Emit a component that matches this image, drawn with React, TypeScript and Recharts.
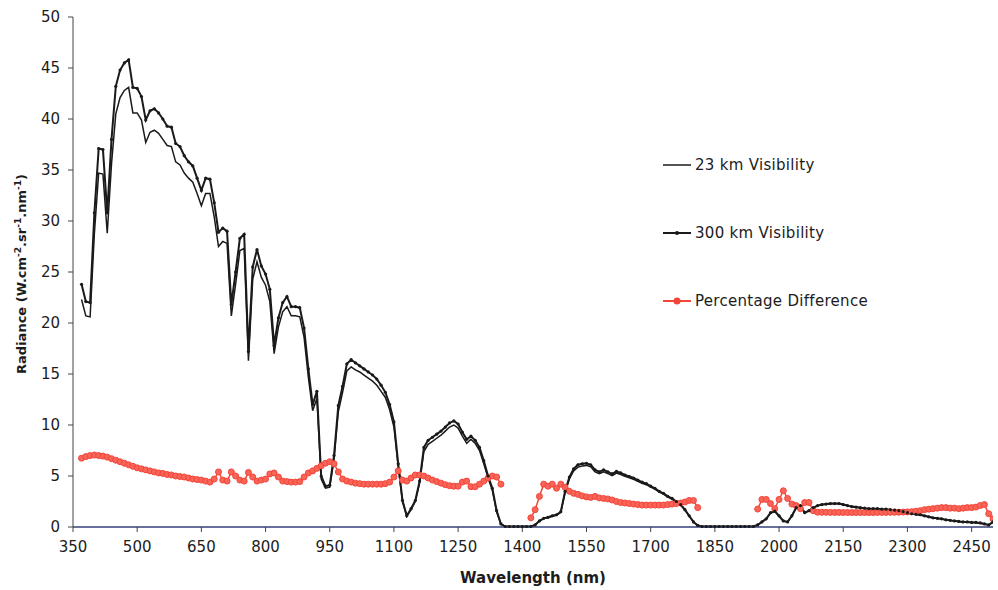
import { LineChart, Line, XAxis, YAxis } from 'recharts';

// wavelength grid of the spectra, 370 .. 2500 nm in 10 nm steps
const wavelengths: number[] = [];
for (let w = 370; w <= 2500; w += 10) wavelengths.push(w);

// radiance, 300 km visibility
const vis300 = [
  23.8, 22.1, 22.0, 30.8, 37.1, 37.0, 30.8, 38.0, 43.2, 44.8, // 370-460
  45.5, 45.8, 43.1, 43.0, 42.2, 39.9, 40.8, 41.0, 40.6, 40.0, // 470-560
  39.3, 39.2, 37.6, 37.3, 36.4, 35.8, 35.4, 34.2, 33.0, 34.2, // 570-660
  34.1, 31.8, 28.9, 29.3, 29.0, 21.8, 25.0, 28.3, 28.7, 17.2, // 670-760
  25.5, 27.2, 25.6, 24.8, 23.3, 17.8, 20.5, 22.0, 22.6, 21.6, // 770-860
  21.6, 21.5, 19.5, 15.5, 12.0, 13.3, 5.0, 4.0, 4.1, 7.0, // 870-960
  11.9, 13.8, 16.0, 16.4, 16.1, 15.8, 15.5, 15.2, 14.9, 14.5, // 970-1060
  13.9, 13.2, 12.0, 10.3, 6.2, 2.6, 1.1, 1.8, 2.6, 4.5, // 1070-1160
  7.8, 8.5, 8.8, 9.1, 9.4, 9.8, 10.2, 10.4, 10.1, 9.3, // 1170-1260
  8.6, 8.9, 8.5, 7.8, 6.5, 5.0, 3.8, 1.6, 0.3, 0.05, // 1270-1360
  0.05, 0.05, 0.05, 0.05, 0.05, 0.05, 0.2, 0.6, 0.85, 0.95, // 1370-1460
  1.1, 1.2, 1.5, 3.5, 4.9, 5.7, 6.1, 6.2, 6.25, 6.1, // 1470-1560
  5.6, 5.4, 5.6, 5.4, 5.2, 5.45, 5.3, 5.1, 4.95, 4.8, // 1570-1660
  4.6, 4.4, 4.25, 4.0, 3.8, 3.5, 3.3, 3.0, 2.8, 2.5, // 1670-1760
  2.2, 1.7, 1.1, 0.5, 0.15, 0.05, 0.05, 0.05, 0.05, 0.05, // 1770-1860
  0.05, 0.05, 0.05, 0.05, 0.05, 0.05, 0.05, 0.05, 0.2, 0.5, // 1870-1960
  0.8, 1.4, 1.55, 1.1, 0.6, 0.5, 1.1, 1.9, 2.1, 1.4, // 1970-2060
  1.6, 1.9, 2.1, 2.2, 2.25, 2.3, 2.3, 2.3, 2.2, 2.1, // 2070-2160
  2.0, 1.95, 1.9, 1.85, 1.8, 1.8, 1.8, 1.75, 1.75, 1.7, // 2170-2260
  1.65, 1.6, 1.5, 1.4, 1.3, 1.25, 1.2, 1.1, 1.0, 0.9, // 2270-2360
  0.85, 0.8, 0.7, 0.65, 0.6, 0.55, 0.5, 0.5, 0.45, 0.45, // 2370-2460
  0.4, 0.3, 0.2, 0.5, // 2470-2500
];

// radiance, 23 km visibility
const vis23 = [
  22.3, 20.7, 20.6, 28.8, 34.7, 34.6, 28.8, 35.6, 40.5, 42.1,
  42.8, 43.1, 40.6, 40.6, 39.9, 37.7, 38.7, 38.9, 38.6, 38.0,
  37.4, 37.3, 35.8, 35.5, 34.7, 34.2, 33.8, 32.7, 31.5, 32.7,
  32.7, 30.4, 27.5, 28.0, 27.8, 20.7, 23.8, 27.1, 27.3, 16.3,
  24.3, 26.0, 24.5, 23.7, 22.1, 17.0, 19.6, 21.1, 21.6, 20.7,
  20.7, 20.6, 18.6, 14.7, 11.4, 12.6, 4.7, 3.8, 3.9, 6.6,
  11.3, 13.2, 15.3, 15.7, 15.4, 15.2, 14.9, 14.6, 14.3, 13.9,
  13.3, 12.7, 11.5, 9.8, 5.9, 2.5, 1.05, 1.7, 2.5, 4.3,
  7.4, 8.1, 8.4, 8.7, 9.0, 9.4, 9.8, 10.0, 9.7, 8.9,
  8.2, 8.6, 8.2, 7.5, 6.2, 4.8, 3.6, 1.5, 0.3, 0.05,
  0.05, 0.05, 0.05, 0.05, 0.05, 0.05, 0.2, 0.58, 0.82, 0.91,
  1.06, 1.15, 1.44, 3.36, 4.71, 5.49, 5.87, 5.98, 6.04, 5.9,
  5.41, 5.22, 5.42, 5.23, 5.04, 5.29, 5.15, 4.96, 4.82, 4.67,
  4.48, 4.29, 4.15, 3.91, 3.72, 3.43, 3.23, 2.94, 2.74, 2.44,
  2.15, 1.66, 1.07, 0.49, 0.15, 0.05, 0.05, 0.05, 0.05, 0.05,
  0.05, 0.05, 0.05, 0.05, 0.05, 0.05, 0.05, 0.05, 0.2, 0.49,
  0.78, 1.37, 1.52, 1.06, 0.58, 0.49, 1.08, 1.86, 2.06, 1.37,
  1.58, 1.87, 2.07, 2.17, 2.22, 2.27, 2.27, 2.27, 2.17, 2.07,
  1.97, 1.92, 1.87, 1.82, 1.77, 1.77, 1.77, 1.72, 1.72, 1.67,
  1.62, 1.57, 1.48, 1.38, 1.28, 1.23, 1.18, 1.08, 0.98, 0.88,
  0.83, 0.78, 0.69, 0.64, 0.59, 0.54, 0.49, 0.49, 0.44, 0.44,
  0.39, 0.29, 0.2, 0.49,
];

// percentage difference (blank where radiance is ~0)
const pctDiff: (number | null)[] = [
  6.75, 6.9, 7.0, 7.05, 7.0, 6.95, 6.85, 6.7, 6.55, 6.4,
  6.25, 6.1, 5.95, 5.8, 5.7, 5.6, 5.5, 5.4, 5.3, 5.25,
  5.15, 5.1, 5.0, 4.95, 4.9, 4.8, 4.7, 4.65, 4.6, 4.5,
  4.4, 4.7, 5.4, 4.6, 4.5, 5.4, 5.0, 4.6, 4.5, 5.35,
  4.9, 4.5, 4.6, 4.7, 5.2, 5.3, 4.9, 4.5, 4.45, 4.4,
  4.4, 4.45, 4.9, 5.3, 5.5, 5.75, 6.0, 6.25, 6.4, 6.2,
  5.4, 4.7, 4.5, 4.4, 4.3, 4.25, 4.2, 4.2, 4.2, 4.2,
  4.2, 4.25, 4.4, 4.9, 5.5, 4.6, 4.5, 4.8, 5.1, 5.1,
  5.0, 4.8, 4.6, 4.45, 4.3, 4.15, 4.05, 4.0, 4.0, 4.4,
  4.5, 3.95, 3.95, 4.2, 4.5, 4.8, 5.0, 4.9, 4.2, null,
  null, null, null, null, null, 0.9, 1.7, 3.0, 4.2, 4.0,
  4.2, 3.8, 4.2, 3.9, 3.5, 3.3, 3.2, 3.05, 2.95, 2.9,
  3.0, 2.85, 2.8, 2.75, 2.65, 2.5, 2.4, 2.35, 2.3, 2.25,
  2.2, 2.15, 2.15, 2.15, 2.15, 2.15, 2.15, 2.2, 2.25, 2.3,
  2.35, 2.45, 2.6, 2.6, 1.9, null, null, null, null, null,
  null, null, null, null, null, null, null, null, 1.76, 2.7,
  2.7, 2.3, 1.8, 2.7, 3.55, 2.8, 2.25, 2.1, 1.8, 2.4,
  2.4, 1.6, 1.45, 1.44, 1.44, 1.43, 1.43, 1.43, 1.42, 1.42,
  1.42, 1.42, 1.42, 1.42, 1.42, 1.42, 1.43, 1.43, 1.43, 1.44,
  1.44, 1.45, 1.46, 1.48, 1.5, 1.55, 1.6, 1.7, 1.75, 1.8,
  1.85, 1.9, 1.9, 1.85, 1.85, 1.8, 1.85, 1.9, 1.9, 1.95,
  2.1, 2.2, 1.3, 0.8,
];

const xTicks = [350, 500, 650, 800, 950, 1100, 1250, 1400, 1550, 1700, 1850, 2000, 2150, 2300, 2450];
const yTicks = [0, 5, 10, 15, 20, 25, 30, 35, 40, 45, 50];

const data = wavelengths.map((wl, i) => ({
  wl,
  v23: vis23[i],
  v300: vis300[i],
  pct: pctDiff[i],
}));

const FONT = '"DejaVu Sans", Arial, sans-serif';
const RED = '#f3463a';
const INK = '#1c1c1c';

const XTitle = (props: any) => {
  const { viewBox } = props;
  const cx = viewBox.x + viewBox.width / 2;
  return (
    <text x={cx} y={583} textAnchor="middle" fontFamily={FONT} fontWeight="bold" fontSize={15} fill={INK}>
      Wavelength (nm)
    </text>
  );
};

const YTitle = () => (
  <text transform="translate(26, 274) rotate(-90)" textAnchor="middle" fontFamily={FONT} fontWeight="bold" fontSize={13} fill={INK}>
    <tspan>Radiance (W.cm</tspan>
    <tspan fontSize={9} dy={-5}>-2</tspan>
    <tspan dy={5}>.sr</tspan>
    <tspan fontSize={9} dy={-5}>-1</tspan>
    <tspan dy={5}>.nm</tspan>
    <tspan fontSize={9} dy={-5}>-1</tspan>
    <tspan dy={5}>)</tspan>
  </text>
);

const legendItems = [
  { label: '23 km Visibility', color: '#1a1a1a', dot: 0 },
  { label: '300 km Visibility', color: '#1a1a1a', dot: 2 },
  { label: 'Percentage Difference', color: RED, dot: 3.5 },
];

// legend sits inside the plot area, like the original
const LegendBox = () => (
  <div style={{ position: 'absolute', left: 662, top: 155, fontFamily: FONT, fontSize: 15, letterSpacing: 0.3, color: INK }}>
    {legendItems.map((it) => (
      <div key={it.label} style={{ display: 'flex', alignItems: 'center', height: 20, marginBottom: 48 }}>
        <svg width={30} height={12} style={{ marginRight: 3 }}>
          <line x1={1} y1={6} x2={29} y2={6} stroke={it.color} strokeWidth={it.dot ? 2 : 1.5} />
          {it.dot > 0 && <circle cx={15} cy={6} r={it.dot} fill={it.color} />}
        </svg>
        <span>{it.label}</span>
      </div>
    ))}
  </div>
);

export default function App() {
  return (
    <div style={{ position: 'absolute', left: 0, top: 0, width: 998, height: 590, background: '#fff' }}>
      <LineChart width={998} height={590} data={data} margin={{ top: 17, right: 5, left: 0, bottom: 0 }}>
        <XAxis
          dataKey="wl"
          type="number"
          domain={[350, 2500]}
          ticks={xTicks}
          allowDataOverflow
          height={63}
          tickSize={5}
          tickMargin={9}
          axisLine={{ stroke: '#34407a', strokeWidth: 1.5 }}
          tickLine={{ stroke: '#444' }}
          tick={{ fontFamily: FONT, fontSize: 15, fill: INK }}
          label={{ content: XTitle }}
        />
        <YAxis
          type="number"
          domain={[0, 50]}
          ticks={yTicks}
          width={73}
          tickSize={5}
          tickMargin={8}
          axisLine={{ stroke: '#444' }}
          tickLine={{ stroke: '#444' }}
          tick={{ fontFamily: FONT, fontSize: 15, fill: INK }}
          label={{ content: YTitle }}
        />
        <Line
          name="Percentage Difference"
          dataKey="pct"
          stroke={RED}
          strokeWidth={1.5}
          dot={{ r: 3, fill: '#f86457', stroke: RED, strokeWidth: 1 }}
          connectNulls={false}
          isAnimationActive={false}
        />
        <Line
          name="23 km Visibility"
          dataKey="v23"
          stroke="#1a1a1a"
          strokeWidth={1.5}
          dot={false}
          isAnimationActive={false}
        />
        <Line
          name="300 km Visibility"
          dataKey="v300"
          stroke="#1a1a1a"
          strokeWidth={2}
          dot={{ r: 1.6, fill: '#1a1a1a', stroke: 'none' }}
          isAnimationActive={false}
        />
      </LineChart>
      <LegendBox />
    </div>
  );
}
